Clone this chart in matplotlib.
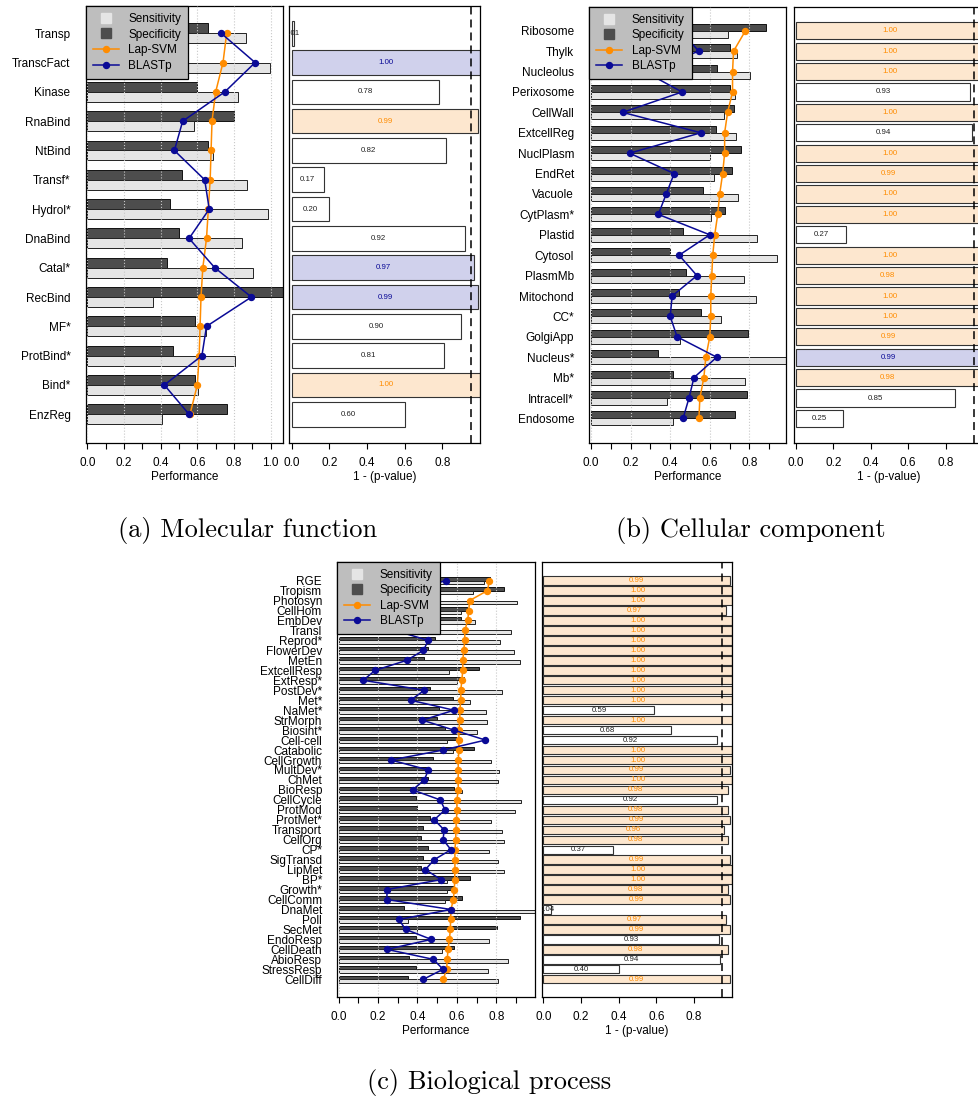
import matplotlib
matplotlib.use('Agg')
import matplotlib.pyplot as plt
from matplotlib.lines import Line2D
import numpy as np

plt.rcParams['font.family'] = ['Liberation Sans', 'DejaVu Sans']

# ---------------- (a) molecular function ----------------
mf_terms = ['Transp', 'TranscFact', 'Kinase', 'RnaBind', 'NtBind', 'Transf*', 'Hydrol*',
            'DnaBind', 'Catal*', 'RecBind', 'MF*', 'ProtBind*', 'Bind*', 'EnzReg']
mf_spec = [0.66, 0.50, 0.60, 0.80, 0.66, 0.515, 0.45, 0.50, 0.435, 1.07, 0.585, 0.465, 0.59, 0.76]
mf_sens = [0.865, 0.995, 0.82, 0.58, 0.685, 0.87, 0.985, 0.845, 0.905, 0.36, 0.645, 0.805, 0.605, 0.41]
mf_lap = [0.76, 0.74, 0.70, 0.68, 0.675, 0.67, 0.66, 0.65, 0.63, 0.62, 0.615, 0.61, 0.60, 0.56]
mf_blast = [0.73, 0.915, 0.75, 0.52, 0.475, 0.64, 0.665, 0.555, 0.695, 0.895, 0.65, 0.625, 0.42, 0.555]
mf_conf = [0.01, 1.00, 0.78, 0.99, 0.82, 0.17, 0.20, 0.92, 0.97, 0.99, 0.90, 0.81, 1.00, 0.60]
mf_best = ['', 'B', '', 'L', '', '', '', '', 'B', 'B', '', '', 'L', '']

# ---------------- (b) cellular component ----------------
cc_terms = ['Ribosome', 'Thylk', 'Nucleolus', 'Perixosome', 'CellWall', 'ExtcellReg', 'NuclPlasm',
            'EndRet', 'Vacuole', 'CytPlasm*', 'Plastid', 'Cytosol', 'PlasmMb', 'Mitochond', 'CC*',
            'GolgiApp', 'Nucleus*', 'Mb*', 'Intracell*', 'Endosome']
cc_spec = [0.885, 0.70, 0.635, 0.70, 0.72, 0.63, 0.76, 0.71, 0.565, 0.675, 0.465, 0.40, 0.48,
           0.445, 0.555, 0.795, 0.34, 0.415, 0.79, 0.725]
cc_sens = [0.69, 0.74, 0.805, 0.725, 0.67, 0.73, 0.60, 0.62, 0.745, 0.605, 0.84, 0.94, 0.775,
           0.835, 0.655, 0.45, 1.00, 0.78, 0.385, 0.415]
cc_lap = [0.78, 0.72, 0.715, 0.715, 0.69, 0.675, 0.675, 0.665, 0.65, 0.64, 0.625, 0.615, 0.61,
          0.605, 0.605, 0.60, 0.58, 0.57, 0.55, 0.545]
cc_blast = [0.45, 0.545, 0.27, 0.46, 0.16, 0.555, 0.195, 0.42, 0.38, 0.34, 0.60, 0.445, 0.535,
            0.41, 0.40, 0.435, 0.635, 0.52, 0.495, 0.465]
cc_conf = [1.00, 1.00, 1.00, 0.93, 1.00, 0.94, 1.00, 0.99, 1.00, 1.00, 0.27, 1.00, 0.98, 1.00,
           1.00, 0.99, 0.99, 0.98, 0.85, 0.25]
cc_best = ['L', 'L', 'L', '', 'L', '', 'L', 'L', 'L', 'L', '', 'L', 'L', 'L', 'L', 'L', 'B', 'L', '', '']

# ---------------- (c) biological process ----------------
bp_terms = ['RGE', 'Tropism', 'Photosyn', 'CellHom', 'EmbDev', 'Transl', 'Reprod*', 'FlowerDev',
            'MetEn', 'ExtcellResp', 'ExtResp*', 'PostDev*', 'Met*', 'NaMet*', 'StrMorph', 'Biosint*',
            'Cell-cell', 'Catabolic', 'CellGrowth', 'MultDev*', 'ChMet', 'BioResp', 'CellCycle',
            'ProtMod', 'ProtMet*', 'Transport', 'CellOrg', 'CP*', 'SigTransd', 'LipMet', 'BP*',
            'Growth*', 'CellComm', 'DnaMet', 'Poll', 'SecMet', 'EndoResp', 'CellDeath', 'AbioResp',
            'StressResp', 'CellDiff']
bp_spec = [0.77, 0.84, 0.45, 0.65, 0.62, 0.45, 0.49, 0.455, 0.435, 0.71, 0.635, 0.465, 0.58,
           0.51, 0.50, 0.54, 0.60, 0.685, 0.48, 0.455, 0.455, 0.585, 0.39, 0.40, 0.465, 0.43,
           0.42, 0.455, 0.43, 0.42, 0.665, 0.58, 0.625, 0.33, 0.92, 0.805, 0.395, 0.585, 0.355,
           0.395, 0.35]
bp_sens = [0.74, 0.68, 0.905, 0.62, 0.69, 0.875, 0.82, 0.89, 0.92, 0.56, 0.60, 0.83, 0.665,
           0.75, 0.755, 0.70, 0.55, 0.58, 0.775, 0.815, 0.81, 0.625, 0.925, 0.895, 0.775, 0.83,
           0.84, 0.765, 0.81, 0.84, 0.55, 0.55, 0.54, 1.00, 0.35, 0.40, 0.765, 0.525, 0.86,
           0.76, 0.81]
bp_lap = [0.765, 0.755, 0.665, 0.66, 0.655, 0.64, 0.64, 0.635, 0.63, 0.63, 0.625, 0.62, 0.62,
          0.615, 0.615, 0.61, 0.61, 0.61, 0.607, 0.607, 0.607, 0.607, 0.60, 0.60, 0.598, 0.595,
          0.594, 0.59, 0.59, 0.59, 0.589, 0.587, 0.582, 0.57, 0.568, 0.567, 0.562, 0.555, 0.551,
          0.548, 0.531]
bp_blast = [0.545, 0.35, 0.40, 0.30, 0.38, 0.285, 0.455, 0.43, 0.345, 0.185, 0.125, 0.435,
            0.365, 0.585, 0.425, 0.585, 0.745, 0.53, 0.265, 0.455, 0.435, 0.375, 0.515, 0.54,
            0.485, 0.535, 0.53, 0.57, 0.485, 0.44, 0.52, 0.245, 0.245, 0.57, 0.305, 0.34, 0.47,
            0.245, 0.48, 0.53, 0.43]
bp_conf = [0.99, 1.00, 1.00, 0.97, 1.00, 1.00, 1.00, 1.00, 1.00, 1.00, 1.00, 1.00, 1.00, 0.59,
           1.00, 0.68, 0.92, 1.00, 1.00, 0.99, 1.00, 0.98, 0.92, 0.98, 0.99, 0.96, 0.98, 0.37,
           0.99, 1.00, 1.00, 0.98, 0.99, 0.04, 0.97, 0.99, 0.93, 0.98, 0.94, 0.40, 0.99]
bp_best = ['L' if v >= 0.95 else '' for v in bp_conf]

LIGHT = '#E5E5E5'
DARK = '#4D4D4D'
ORANGE = '#FF8C00'
BLUE = '#0A0A96'
PEACH = '#FDE7CF'
LAVENDER = '#D0D1EC'
LEGEND_BG = '#BEBEBE'
FS = 8.5

W, H = 979, 1101


def box(x0, x1, y0, y1):
    # pixel box -> figure fraction rect
    return [x0 / W, 1 - y1 / H, (x1 - x0) / W, (y1 - y0) / H]


def perf_panel(ax, terms, sens, spec, lap, blast, xlim, ylim):
    y = np.arange(len(terms))
    h = 0.34
    ax.barh(y - h / 2, spec, height=h, color=DARK, edgecolor='#111111', linewidth=0.7, zorder=2)
    ax.barh(y + h / 2, sens, height=h, color=LIGHT, edgecolor='#222222', linewidth=0.7, zorder=2)
    for gx in np.arange(0, 1.01, 0.2):
        ax.axvline(gx, color='#C8C8C8', ls=':', lw=0.8, zorder=3)
    ax.plot(lap, y, '-o', color=ORANGE, lw=1.1, ms=4.3, zorder=4)
    ax.plot(blast, y, '-o', color=BLUE, lw=1.1, ms=4.3, zorder=5)
    ax.set_xlim(*xlim)
    ax.set_ylim(*ylim)
    ax.set_yticks(y)
    ax.set_yticklabels(terms)
    ax.tick_params(axis='y', length=0, pad=11, labelsize=FS)
    major = [t for t in np.arange(0, 1.01, 0.2) if t <= xlim[1] - 0.005]
    minor = [t for t in np.arange(0.1, 1.0, 0.2) if t <= xlim[1]]
    ax.set_xticks(major)
    ax.set_xticklabels(['%.1f' % t for t in major])
    ax.set_xticks(minor, minor=True)
    ax.tick_params(axis='x', which='both', direction='out', length=4.5, width=0.8,
                   labelsize=FS, pad=5.5)
    ax.set_xlabel('Performance', fontsize=FS, labelpad=1.5)
    for s in ax.spines.values():
        s.set_linewidth(0.9)
    handles = [Line2D([], [], ls='none', marker='s', ms=6.5, mfc=LIGHT, mec=LIGHT),
               Line2D([], [], ls='none', marker='s', ms=6.5, mfc=DARK, mec=DARK),
               Line2D([], [], color=ORANGE, marker='o', lw=1.1, ms=4.3),
               Line2D([], [], color=BLUE, marker='o', lw=1.1, ms=4.3)]
    leg = ax.legend(handles, ['Sensitivity', 'Specificity', 'Lap-SVM', 'BLASTp'],
                    loc='upper left', bbox_to_anchor=(0, 1), borderaxespad=0,
                    fancybox=False, framealpha=1, facecolor=LEGEND_BG, edgecolor='black',
                    fontsize=FS, handlelength=2.2, handletextpad=0.8, labelspacing=0.3,
                    borderpad=0.6)
    leg.get_frame().set_linewidth(0.9)


def pval_panel(ax, conf, best, xlim, ylim):
    y = np.arange(len(conf))
    face = [PEACH if b == 'L' else LAVENDER if b == 'B' else 'white' for b in best]
    tcol = [ORANGE if b == 'L' else BLUE if b == 'B' else '#222222' for b in best]
    ax.barh(y, conf, height=0.84, color=face, edgecolor='#333333', linewidth=0.8, zorder=2)
    for yi, v, c in zip(y, conf, tcol):
        ax.text(v / 2, yi, '%.2f' % v, ha='center', va='center', fontsize=5.7, color=c,
                clip_on=True, zorder=4)
    ax.axvline(0.95, color='black', ls=(0, (5.2, 3.3)), lw=1.1, zorder=3)
    ax.set_xlim(*xlim)
    ax.set_ylim(*ylim)
    ax.set_yticks([])
    ticks = np.arange(0, 0.81, 0.2)
    ax.set_xticks(ticks)
    ax.set_xticklabels(['%.1f' % t for t in ticks])
    ax.tick_params(axis='x', direction='out', length=4.5, width=0.8, labelsize=FS, pad=5.5)
    ax.set_xlabel('1 - (p-value)', fontsize=FS, labelpad=1.5)
    for s in ax.spines.values():
        s.set_linewidth(0.9)


fig = plt.figure(figsize=(W / 100, H / 100), dpi=100)

# (a)
ax = fig.add_axes(box(85.7, 282.7, 6, 443))
perf_panel(ax, mf_terms, mf_sens, mf_spec, mf_lap, mf_blast, (-0.0087, 1.0655), (13.98, -0.93))
ax = fig.add_axes(box(289.3, 480, 6, 443))
pval_panel(ax, mf_conf, mf_best, (-0.0127, 1.0), (13.98, -0.93))

# (b)
ax = fig.add_axes(box(589.3, 786, 6.7, 442.7))
perf_panel(ax, cc_terms, cc_sens, cc_spec, cc_lap, cc_blast, (-0.0086, 0.985), (20.19, -1.18))
ax = fig.add_axes(box(794, 983.2, 6.7, 442.7))
pval_panel(ax, cc_conf, cc_best, (-0.009, 1.0), (20.19, -1.18))

# (c)
ax = fig.add_axes(box(337.3, 535, 561.7, 996.7))
perf_panel(ax, bp_terms, bp_sens, bp_spec, bp_lap, bp_blast, (-0.007, 0.9965), (41.75, -1.9))
ax = fig.add_axes(box(541.7, 731.7, 561.7, 996.7))
pval_panel(ax, bp_conf, bp_best, (-0.0085, 1.0), (41.75, -1.9))

cap = dict(ha='center', va='center', fontsize=19, family='cmr10')
fig.text(248 / W, 1 - 530 / H, '(a) Molecular function', **cap)
fig.text(751 / W, 1 - 530 / H, '(b) Cellular component', **cap)
fig.text(489 / W, 1 - 1083 / H, '(c) Biological process', **cap)

fig.savefig('out.png', dpi=100)
